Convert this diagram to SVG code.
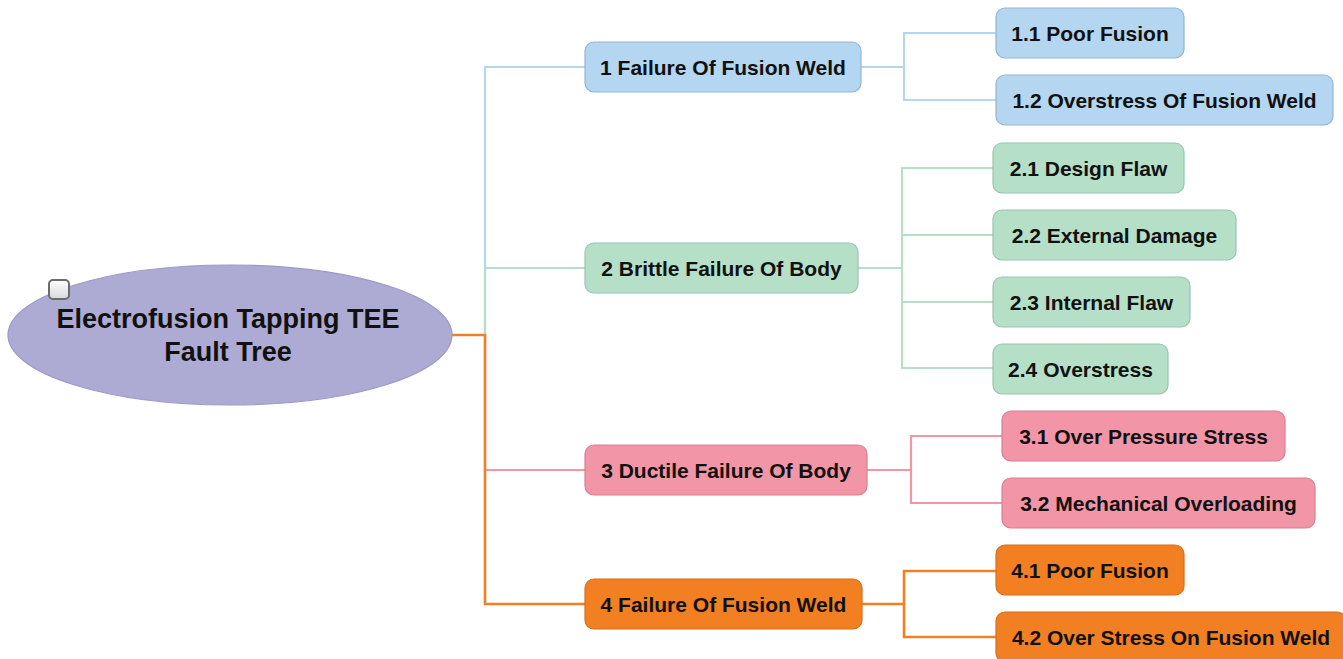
<svg xmlns="http://www.w3.org/2000/svg" width="1343" height="659" viewBox="0 0 1343 659">
<style>
text{font-family:"Liberation Sans",Arial,Helvetica,sans-serif;font-weight:bold;fill:#111;}
.t{font-size:21px;text-anchor:middle;}
.rt{font-size:27px;text-anchor:middle;}
.b rect{fill:#b4d6f0;stroke:#93b5d1;stroke-width:1.2;}
.g rect{fill:#b6dfc8;stroke:#98c5ad;stroke-width:1.2;}
.p rect{fill:#f195a7;stroke:#d97f91;stroke-width:1.2;}
.o rect{fill:#f28022;stroke:#d86d18;stroke-width:1.2;}
.c{fill:none;stroke-width:2.2;}
.cb{stroke:#b4d6f0;}
.cg{stroke:#b6dfc8;}
.cp{stroke:#f195a7;}
.co{stroke:#f28022;stroke-width:2.6;}
</style>
<defs>
<linearGradient id="chk" x1="0" y1="0" x2="0" y2="1">
<stop offset="0" stop-color="#ffffff"/>
<stop offset="1" stop-color="#d8d8d8"/>
</linearGradient>
</defs>
<rect width="1343" height="659" fill="#ffffff"/>
<g id="connectors">
<polyline class="c cb" points="485,335 485,67 585,67"/>
<polyline class="c cg" points="485,335 485,268 585,268"/>
<polyline class="c cp" points="485,335 485,470 585,470"/>
<polyline class="c co" points="452,335 485,335 485,604 585,604"/>
<polyline class="c cb" points="861,67 904,67"/>
<polyline class="c cb" points="996,33 904,33 904,100 996,100"/>
<polyline class="c cg" points="858,268 902,268"/>
<polyline class="c cg" points="993,168 902,168 902,368 993,368"/>
<polyline class="c cg" points="902,235 993,235"/>
<polyline class="c cg" points="902,302 993,302"/>
<polyline class="c cp" points="867,470 911,470"/>
<polyline class="c cp" points="1002,436 911,436 911,503 1002,503"/>
<polyline class="c co" points="861,604 904,604"/>
<polyline class="c co" points="996,571 904,571 904,637 996,637"/>
</g>
<g id="root">
<ellipse cx="230" cy="335" rx="222" ry="70" fill="#adaad3" stroke="#9c99c9" stroke-width="1.2"/>
<rect x="49" y="280" width="20" height="19" rx="4" fill="url(#chk)" stroke="#6b6b6b" stroke-width="2"/>
<text class="rt" x="228" y="328">Electrofusion Tapping TEE</text>
<text class="rt" x="228" y="361">Fault Tree</text>
</g>
<g id="n1" class="b"><rect x="585" y="42" width="276" height="50" rx="9"/><text class="t" x="723" y="74.5">1 Failure Of Fusion Weld</text></g>
<g id="n1_1" class="b"><rect x="996" y="8" width="188" height="50" rx="9"/><text class="t" x="1090" y="40.5">1.1 Poor Fusion</text></g>
<g id="n1_2" class="b"><rect x="996" y="75" width="337" height="50" rx="9"/><text class="t" x="1164.5" y="107.5">1.2 Overstress Of Fusion Weld</text></g>
<g id="n2" class="g"><rect x="585" y="243" width="273" height="50" rx="9"/><text class="t" x="721.5" y="275.5">2 Brittle Failure Of Body</text></g>
<g id="n2_1" class="g"><rect x="993" y="143" width="191" height="50" rx="9"/><text class="t" x="1088.5" y="175.5">2.1 Design Flaw</text></g>
<g id="n2_2" class="g"><rect x="993" y="210" width="243" height="50" rx="9"/><text class="t" x="1114.5" y="242.5">2.2 External Damage</text></g>
<g id="n2_3" class="g"><rect x="993" y="277" width="197" height="50" rx="9"/><text class="t" x="1091.5" y="309.5">2.3 Internal Flaw</text></g>
<g id="n2_4" class="g"><rect x="993" y="344" width="175" height="50" rx="9"/><text class="t" x="1080.5" y="376.5">2.4 Overstress</text></g>
<g id="n3" class="p"><rect x="585" y="445" width="282" height="50" rx="9"/><text class="t" x="726" y="477.5">3 Ductile Failure Of Body</text></g>
<g id="n3_1" class="p"><rect x="1002" y="411" width="283" height="50" rx="9"/><text class="t" x="1143.5" y="443.5">3.1 Over Pressure Stress</text></g>
<g id="n3_2" class="p"><rect x="1002" y="478" width="313" height="50" rx="9"/><text class="t" x="1158.5" y="510.5">3.2 Mechanical Overloading</text></g>
<g id="n4" class="o"><rect x="585" y="579" width="277" height="50" rx="9"/><text class="t" x="723.5" y="611.5">4 Failure Of Fusion Weld</text></g>
<g id="n4_1" class="o"><rect x="996" y="545" width="188" height="50" rx="9"/><text class="t" x="1090" y="577.5">4.1 Poor Fusion</text></g>
<g id="n4_2" class="o"><rect x="996" y="612" width="350" height="50" rx="9"/><text class="t" x="1171" y="644.5">4.2 Over Stress On Fusion Weld</text></g>
</svg>
